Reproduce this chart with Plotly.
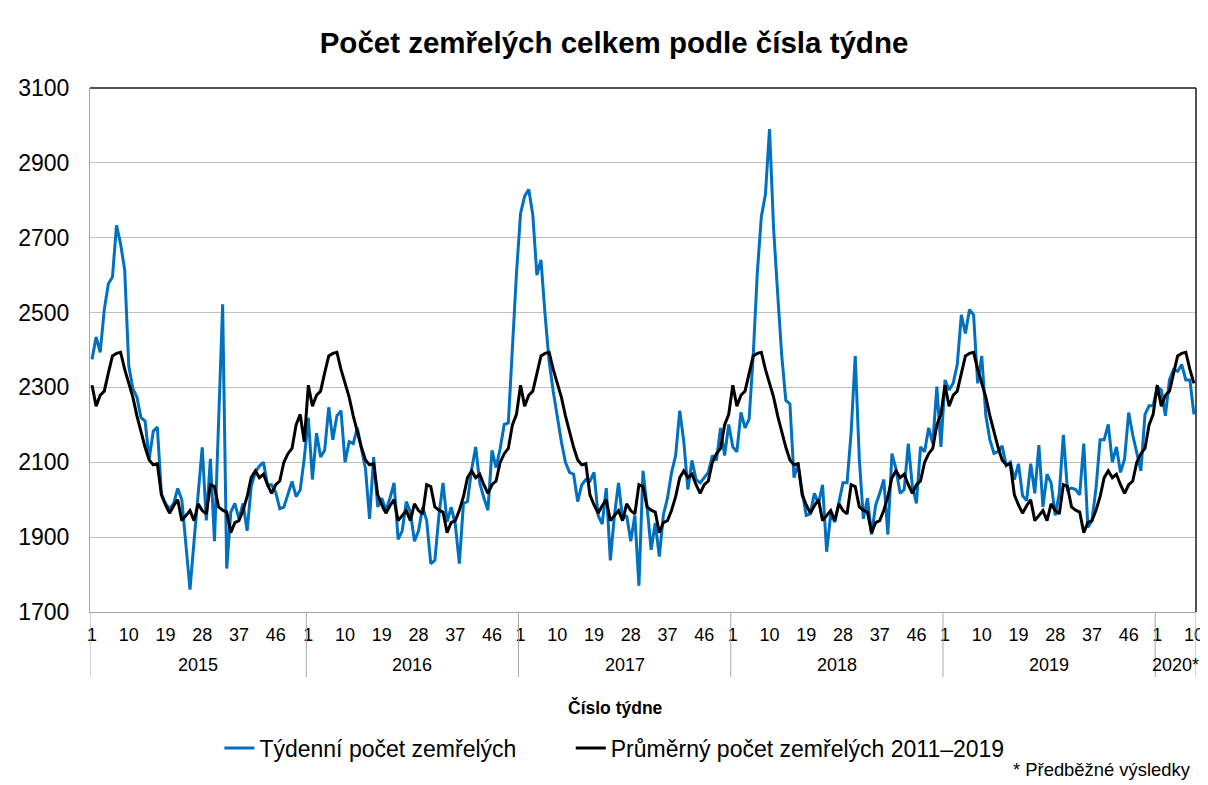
import plotly.graph_objects as go

# ---------------- data ----------------
years = ["2015", "2016", "2017", "2018", "2019", "2020*"]
tick_weeks = [1, 10, 19, 28, 37, 46]

weekly_2015 = [2375, 2435, 2394, 2508, 2577, 2595, 2733, 2683, 2614, 2357,
               2297, 2274, 2219, 2210, 2109, 2183, 2194, 2016, 1990, 1975,
               1990, 2030, 2000, 1890, 1760, 1890, 2020, 2140, 1945, 2109,
               1889, 2200, 2522, 1816, 1967, 1990, 1949, 1990, 1917, 2036,
               2073, 2090, 2100, 2040, 2040, 2020, 1976, 1980, 2017, 2049,
               2008, 2026, 2110]
weekly_2016 = [2219, 2054, 2178, 2114, 2132, 2247, 2160, 2224, 2238, 2100,
               2155, 2150, 2192, 2137, 2083, 1949, 2114, 1981, 2004, 1972,
               2004, 2045, 1894, 1917, 1995, 1967, 1889, 1917, 1980, 1944,
               1829, 1838, 1958, 2045, 1941, 1980, 1935, 1829, 1990, 1995,
               2080, 2141, 2045, 2005, 1972, 2132, 2086, 2137, 2201, 2205,
               2403, 2605]
weekly_2017 = [2765, 2811, 2829, 2761, 2600, 2641, 2495, 2370, 2290, 2220,
               2155, 2100, 2073, 2068, 1995, 2040, 2054, 2050, 2073, 1958,
               1935, 2031, 1838, 1958, 2045, 1949, 1958, 1889, 1958, 1770,
               2077, 1981, 1866, 1938, 1848, 1960, 2004, 2073, 2118, 2238,
               2155, 2027, 2105, 2054, 2045, 2059, 2073, 2118, 2105, 2192,
               2118, 2201]
weekly_2018 = [2141, 2128, 2233, 2192, 2215, 2384, 2605, 2756, 2816, 2990,
               2724, 2550, 2384, 2265, 2256, 2059, 2096, 2022, 1958, 1962,
               2017, 1990, 2040, 1861, 1962, 1940, 1995, 2045, 2045, 2180,
               2384, 2109, 1949, 2004, 1907, 1985, 2017, 2054, 1907, 2123,
               2082, 2017, 2027, 2150, 2036, 1990, 2141, 2128, 2192, 2150,
               2302, 2141]
weekly_2019 = [2320, 2293, 2311, 2361, 2494, 2444, 2508, 2494, 2311, 2384,
               2225, 2160, 2124, 2129, 2144, 2091, 2100, 2054, 2096, 2011,
               1998, 2096, 2017, 2146, 1981, 2068, 2045, 1958, 2017, 2173,
               2027, 2031, 2027, 2013, 2150, 1926, 1944, 2031, 2160, 2160,
               2201, 2100, 2141, 2073, 2109, 2233, 2173, 2128, 2077, 2228,
               2251, 2251]
weekly_2020 = [2302, 2293, 2224, 2320, 2348, 2343, 2361, 2320, 2320, 2228]

# average 2011-2019 by week number (weeks 1..53)
avg_2011_2019 = [2306, 2250, 2279, 2290, 2339, 2384, 2391, 2394, 2348, 2311,
                 2274, 2224, 2180, 2140, 2106, 2093, 2096, 2013, 1986, 1964,
                 1984, 2000, 1944, 1958, 1971, 1944, 1989, 1971, 1962, 2040,
                 2035, 1981, 1972, 1967, 1912, 1939, 1944, 1972, 2008, 2059,
                 2077, 2059, 2068, 2040, 2017, 2040, 2050, 2100, 2123, 2137,
                 2200, 2228, 2155]

weekly_by_year = [weekly_2015, weekly_2016, weekly_2017, weekly_2018, weekly_2019, weekly_2020]

# ---------------- build series ----------------
weekly, average, tickvals, ticktext, year_bounds = [], [], [], [], []
pos = 0
for yr, vals in zip(years, weekly_by_year):
    n = len(vals)
    year_bounds.append((pos, pos + n))
    for w in range(1, n + 1):
        if w in tick_weeks:
            tickvals.append(pos + w - 1)
            ticktext.append(str(w))
    weekly.extend(vals)
    average.extend(avg_2011_2019[:n])
    pos += n
idx = list(range(pos))

FONT = "Liberation Sans, Arial, sans-serif"

fig = go.Figure()
fig.add_trace(go.Scatter(x=idx, y=weekly, mode="lines", name="Týdenní počet zemřelých",
                         line=dict(color="#0070C0", width=3), legend="legend"))
fig.add_trace(go.Scatter(x=idx, y=average, mode="lines", name="Průměrný počet zemřelých 2011–2019",
                         line=dict(color="#000000", width=3), legend="legend2"))

shapes = []
# plot-area frame (top and right)
shapes.append(dict(type="line", xref="paper", yref="paper", x0=0, x1=1, y0=1, y1=1,
                   line=dict(color="#1a1a1a", width=1.5)))
shapes.append(dict(type="line", xref="paper", yref="paper", x0=1, x1=1, y0=0, y1=1,
                   line=dict(color="#1a1a1a", width=1.5)))
# year separators
for (a, b) in year_bounds:
    shapes.append(dict(type="line", xref="x", yref="paper", x0=a - 0.5, x1=a - 0.5, y0=0, y1=-0.124,
                       line=dict(color="#A6A6A6", width=1)))
shapes.append(dict(type="line", xref="x", yref="paper", x0=pos - 0.5, x1=pos - 0.5, y0=0, y1=-0.124,
                   line=dict(color="#A6A6A6", width=1)))

annotations = []
for yr, (a, b) in zip(years, year_bounds):
    annotations.append(dict(x=(a + b - 1) / 2, xref="x", y=-0.101, yref="paper", text=yr,
                            showarrow=False, xanchor="center", yanchor="middle",
                            font=dict(size=18, color="#000000", family=FONT)))
annotations.append(dict(x=0.475, xref="paper", y=-0.183, yref="paper", text="<b>Číslo týdne</b>",
                        showarrow=False, xanchor="center", yanchor="middle",
                        font=dict(size=17.5, color="#000000", family=FONT)))
annotations.append(dict(x=0.9973, xref="paper", y=-0.3015, yref="paper", text="* Předběžné výsledky",
                        showarrow=False, xanchor="right", yanchor="middle",
                        font=dict(size=18.4, color="#000000", family=FONT)))

# the page adds an 8px body margin, so the figure is 8px smaller than the window
fig.update_layout(
    width=1200, height=777, autosize=False,
    margin=dict(l=82, r=12, t=80, b=173, autoexpand=False),
    paper_bgcolor="white", plot_bgcolor="white",
    font=dict(family=FONT, color="#000000"),
    title=dict(text="<b>Počet zemřelých celkem podle čísla týdne</b>", x=0.505, xanchor="center",
               y=0.956, yanchor="middle", yref="container", font=dict(size=29.5, color="#000000", family=FONT)),
    xaxis=dict(range=[-0.5, pos - 0.5], tickmode="array", tickvals=tickvals, ticktext=ticktext,
               showgrid=False, zeroline=False, showline=True, linecolor="#A6A6A6", linewidth=1,
               ticks="", tickfont=dict(size=18, color="#000000"), ticklabelstandoff=6,
               automargin=False, fixedrange=True),
    yaxis=dict(range=[1700, 3100], tick0=1700, dtick=200, showgrid=True, gridcolor="#BFBFBF",
               gridwidth=1, zeroline=False, showline=True, linecolor="#A6A6A6", linewidth=1,
               ticks="", tickfont=dict(size=23, color="#000000"), ticklabelstandoff=15,
               automargin=False),
    showlegend=True,
    legend=dict(orientation="h", x=0.117, xanchor="left", y=-0.2595, yanchor="middle",
                font=dict(size=23, color="#000000", family=FONT), bgcolor="rgba(0,0,0,0)"),
    legend2=dict(orientation="h", x=0.4347, xanchor="left", y=-0.2595, yanchor="middle",
                 font=dict(size=23, color="#000000", family=FONT), bgcolor="rgba(0,0,0,0)"),
    shapes=shapes, annotations=annotations,
)

fig.write_html("out.html")
